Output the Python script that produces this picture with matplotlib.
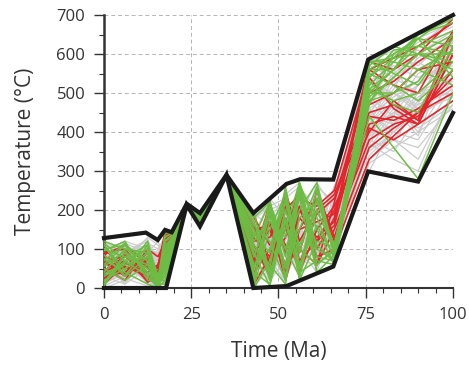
import matplotlib.pyplot as plt
from matplotlib.ticker import MultipleLocator

# node times shared by all the t-T paths (Ma)
times = [0, 6, 12.5, 15.5, 17.5, 20, 23.7, 27.5, 35, 43, 47.5, 52, 56, 61, 66, 76, 83, 90, 100]

# acceptable fits (gray)
gray_paths = [
    [20, 45, 30, 10, 60, 120, 214, 175, 288, 40, 120, 80, 200, 150, 90, 420, 480, 520, 600],
    [80, 60, 90, 40, 100, 130, 213, 180, 289, 150, 60, 180, 120, 220, 180, 470, 550, 600, 650],
    [110, 90, 50, 20, 20, 110, 215, 165, 287, 100, 180, 40, 90, 160, 240, 350, 400, 380, 520],
    [5, 30, 70, 60, 120, 140, 214, 185, 289, 10, 90, 150, 250, 100, 70, 520, 500, 460, 560],
    [60, 100, 20, 5, 40, 100, 212, 170, 288, 170, 30, 100, 60, 200, 140, 400, 450, 420, 480],
    [40, 20, 110, 80, 90, 125, 215, 178, 290, 60, 200, 220, 150, 80, 200, 560, 590, 640, 680],
    [100, 80, 40, 30, 10, 95, 213, 168, 288, 120, 70, 20, 180, 240, 110, 330, 380, 330, 500],
    [15, 70, 95, 15, 70, 135, 214, 182, 289, 30, 150, 190, 40, 120, 260, 480, 530, 580, 620],
    [90, 40, 60, 100, 130, 142, 215, 188, 290, 180, 100, 60, 220, 60, 160, 440, 420, 500, 550],
    [50, 110, 80, 50, 30, 105, 213, 172, 287, 80, 10, 130, 100, 180, 80, 380, 460, 550, 590],
    [120, 60, 15, 5, 50, 115, 214, 176, 288, 20, 60, 240, 270, 140, 120, 500, 560, 480, 500],
    [30, 90, 120, 70, 110, 138, 215, 184, 289, 140, 220, 110, 30, 260, 220, 540, 480, 440, 640],
    [70, 10, 50, 25, 80, 128, 213, 169, 288, 50, 130, 30, 140, 90, 180, 360, 440, 600, 660],
    [10, 50, 25, 40, 15, 90, 214, 181, 290, 190, 160, 80, 60, 230, 100, 460, 380, 360, 470],
    [95, 120, 100, 90, 140, 145, 215, 177, 289, 90, 40, 200, 230, 50, 240, 580, 610, 560, 600],
    [45, 25, 5, 10, 35, 100, 212, 171, 288, 130, 190, 160, 110, 170, 60, 320, 360, 400, 540],
    [85, 70, 130, 110, 60, 118, 214, 186, 290, 0, 80, 10, 190, 270, 200, 430, 510, 620, 690],
    [25, 100, 65, 20, 95, 132, 215, 174, 287, 160, 110, 250, 80, 110, 130, 410, 470, 500, 580],
    [115, 35, 85, 60, 25, 108, 213, 179, 289, 70, 170, 50, 260, 200, 90, 490, 440, 420, 610],
    [5, 80, 40, 15, 100, 136, 214, 166, 288, 110, 20, 170, 40, 70, 250, 530, 570, 540, 570],
    [65, 15, 100, 45, 75, 122, 215, 183, 290, 40, 140, 90, 160, 250, 170, 390, 420, 470, 520],
    [100, 55, 20, 30, 5, 92, 213, 173, 288, 185, 210, 140, 50, 130, 70, 450, 520, 590, 640],
    [35, 95, 75, 85, 125, 144, 214, 187, 289, 5, 50, 190, 210, 90, 210, 570, 540, 500, 530],
    [75, 40, 55, 35, 45, 112, 215, 175, 290, 150, 100, 20, 120, 190, 150, 340, 400, 450, 490],
    [55, 75, 10, 5, 65, 125, 213, 180, 288, 60, 180, 230, 260, 160, 110, 470, 580, 630, 670],
    [105, 115, 90, 70, 115, 140, 214, 170, 289, 100, 30, 60, 100, 40, 190, 510, 470, 400, 460],
    [15, 35, 115, 100, 85, 130, 215, 185, 287, 170, 120, 210, 20, 210, 230, 420, 500, 560, 610],
    [90, 100, 35, 10, 20, 98, 213, 167, 288, 25, 70, 120, 240, 100, 80, 370, 330, 300, 510],
    [40, 65, 105, 55, 135, 146, 214, 182, 290, 80, 200, 100, 170, 240, 140, 550, 520, 460, 580],
    [120, 85, 45, 20, 40, 106, 215, 176, 289, 130, 40, 250, 70, 60, 170, 440, 490, 530, 630],
    [0, 20, 60, 75, 55, 120, 213, 178, 288, 45, 160, 40, 200, 150, 260, 500, 590, 610, 560],
    [60, 105, 80, 45, 105, 134, 214, 171, 290, 175, 90, 150, 30, 220, 120, 380, 350, 440, 500],
    [80, 50, 20, 10, 10, 95, 215, 184, 288, 15, 230, 180, 150, 120, 60, 300, 420, 490, 540],
    [30, 10, 90, 120, 70, 127, 213, 173, 289, 120, 60, 70, 250, 180, 230, 560, 460, 390, 620],
    [110, 90, 125, 60, 30, 110, 214, 180, 290, 70, 110, 200, 90, 270, 100, 410, 450, 520, 600],
    [20, 60, 30, 25, 90, 130, 215, 168, 288, 140, 150, 30, 130, 80, 190, 460, 500, 470, 660],
    [50, 30, 45, 65, 85, 125, 214, 177, 289, 95, 70, 110, 180, 200, 150, 390, 470, 440, 560],
    [75, 95, 110, 50, 35, 102, 213, 183, 288, 35, 130, 170, 220, 130, 200, 480, 420, 520, 580],
    [10, 40, 85, 90, 115, 137, 215, 170, 290, 160, 90, 60, 110, 230, 90, 420, 540, 580, 520],
    [105, 65, 35, 15, 55, 118, 214, 186, 288, 85, 180, 200, 70, 160, 250, 530, 500, 450, 600],
    [35, 115, 60, 30, 75, 128, 213, 174, 289, 125, 40, 90, 150, 90, 170, 370, 450, 410, 470],
    [90, 20, 75, 55, 100, 133, 215, 181, 290, 55, 100, 140, 240, 180, 130, 450, 400, 480, 630],
    [65, 50, 95, 40, 10, 96, 214, 179, 288, 175, 210, 230, 190, 110, 210, 500, 600, 570, 650],
    [20, 105, 20, 5, 45, 110, 213, 172, 289, 65, 20, 70, 130, 250, 110, 360, 380, 460, 510],
]

# good fits (green)
green_paths = [
    [100, 80, 60, 10, 90, 135, 214, 180, 289, 20, 200, 30, 260, 80, 70, 560, 600, 640, 620],
    [60, 110, 40, 5, 40, 110, 213, 175, 288, 150, 20, 180, 50, 230, 90, 520, 580, 650, 680],
    [20, 50, 90, 15, 120, 140, 215, 185, 290, 5, 150, 240, 100, 60, 95, 480, 540, 600, 560],
    [115, 70, 100, 20, 20, 100, 214, 170, 288, 100, 60, 10, 270, 150, 60, 580, 550, 520, 640],
    [40, 100, 70, 5, 60, 120, 213, 182, 289, 180, 220, 100, 30, 200, 100, 440, 360, 280, 500],
    [85, 30, 110, 30, 100, 138, 215, 176, 290, 40, 10, 200, 230, 40, 85, 540, 610, 620, 600],
    [5, 90, 50, 10, 10, 95, 214, 188, 288, 120, 180, 60, 150, 260, 80, 500, 560, 640, 700],
    [70, 115, 30, 0, 80, 128, 213, 172, 289, 60, 100, 250, 20, 120, 105, 480, 500, 560, 520],
    [110, 45, 120, 25, 130, 145, 215, 179, 290, 190, 40, 150, 270, 100, 70, 570, 620, 600, 650],
    [30, 60, 80, 5, 50, 115, 214, 186, 288, 10, 230, 20, 180, 220, 110, 510, 480, 500, 580],
    [95, 120, 20, 15, 110, 132, 213, 168, 289, 140, 90, 230, 40, 70, 60, 580, 590, 650, 690],
    [50, 20, 60, 10, 30, 105, 215, 183, 290, 80, 210, 50, 260, 180, 75, 530, 470, 450, 620],
    [120, 100, 90, 5, 70, 125, 214, 174, 288, 170, 30, 200, 90, 250, 90, 490, 540, 600, 600],
    [15, 80, 110, 20, 140, 146, 213, 181, 289, 30, 170, 130, 250, 60, 100, 560, 560, 620, 660],
    [75, 40, 10, 0, 20, 100, 215, 178, 290, 110, 50, 260, 60, 160, 80, 470, 600, 640, 540],
    [100, 110, 70, 10, 90, 130, 214, 187, 288, 50, 190, 100, 200, 270, 90, 550, 520, 480, 560],
    [35, 65, 100, 30, 50, 118, 213, 169, 289, 160, 120, 20, 240, 110, 70, 580, 580, 560, 610],
    [55, 95, 40, 5, 120, 140, 215, 184, 290, 0, 70, 220, 110, 200, 100, 500, 500, 530, 650],
    [110, 30, 80, 15, 100, 135, 214, 177, 288, 130, 220, 80, 270, 40, 60, 510, 560, 650, 700],
    [10, 70, 30, 5, 60, 120, 213, 180, 289, 90, 5, 170, 30, 230, 110, 540, 590, 600, 580],
]

# best fits (red)
red_paths = [
    [40, 70, 20, 60, 130, 140, 214, 178, 289, 90, 150, 40, 200, 120, 200, 420, 440, 420, 600],
    [70, 30, 80, 10, 110, 130, 213, 182, 288, 160, 50, 230, 100, 60, 150, 380, 420, 440, 560],
    [20, 90, 50, 40, 140, 145, 215, 172, 290, 30, 190, 110, 60, 190, 230, 450, 470, 430, 650],
    [100, 50, 60, 5, 100, 125, 214, 185, 288, 130, 80, 200, 240, 100, 180, 580, 560, 600, 690],
    [50, 20, 100, 80, 120, 138, 213, 176, 289, 60, 170, 20, 150, 230, 120, 360, 410, 450, 500],
    [90, 100, 30, 20, 80, 128, 215, 170, 290, 180, 110, 160, 40, 150, 210, 400, 480, 430, 620],
    [10, 60, 70, 50, 145, 146, 214, 184, 288, 20, 200, 90, 210, 80, 100, 330, 390, 450, 540],
    [60, 85, 15, 30, 90, 132, 213, 180, 289, 110, 30, 250, 120, 200, 240, 470, 500, 560, 580],
    [30, 40, 90, 15, 125, 140, 215, 174, 290, 150, 160, 60, 180, 130, 170, 560, 520, 500, 660],
    [80, 65, 40, 60, 135, 143, 214, 186, 288, 40, 100, 180, 90, 250, 130, 410, 380, 420, 480],
    [45, 80, 55, 25, 105, 135, 213, 178, 289, 190, 60, 130, 260, 60, 220, 540, 460, 420, 600],
    [65, 35, 75, 40, 115, 130, 215, 182, 290, 70, 220, 30, 150, 170, 190, 440, 430, 460, 520],
    [25, 55, 30, 10, 95, 125, 214, 171, 288, 120, 130, 210, 70, 120, 160, 500, 530, 580, 640],
    [85, 110, 60, 35, 130, 142, 213, 180, 289, 10, 80, 150, 230, 210, 250, 560, 590, 620, 680],
]

# envelope of all paths
upper_t = [0, 12, 15.4, 17.5, 19.4, 23.7, 27.5, 35.1, 42.8, 52.3, 56.2, 65.7, 75.7, 100]
upper_T = [128, 142, 123, 149, 143, 216, 192, 290, 192, 267, 279, 278, 586, 700]
lower_t = [0, 17.8, 23.7, 27.5, 35.1, 42.8, 52.3, 65.7, 75.7, 90, 100]
lower_T = [0, 0, 213, 158, 290, 0, 5, 55, 299, 273, 449]

plt.rcParams['font.family'] = ['Open Sans', 'DejaVu Sans']
txt = '#333333'

fig = plt.figure(figsize=(4.69, 3.69), dpi=100)
ax = fig.add_axes([0.2217, 0.2195, 0.7442, 0.7398])

for p in gray_paths:
    ax.plot(times, p, color='#cbcbcb', lw=0.9, zorder=2)
for p in red_paths:
    ax.plot(times, p, color='#e5232a', lw=1.2, zorder=3)
for p in green_paths:
    ax.plot(times, p, color='#6dbd45', lw=1.1, zorder=4)

ax.plot(upper_t, upper_T, color='#1a1a1a', lw=3, zorder=5, clip_on=False,
        solid_joinstyle='miter')
ax.plot(lower_t, lower_T, color='#1a1a1a', lw=3, zorder=5, clip_on=False,
        solid_joinstyle='miter')

ax.set_xlim(0, 100)
ax.set_ylim(0, 700)
ax.xaxis.set_major_locator(MultipleLocator(25))
ax.xaxis.set_minor_locator(MultipleLocator(5))
ax.yaxis.set_major_locator(MultipleLocator(100))
ax.yaxis.set_minor_locator(MultipleLocator(50))
ax.grid(True, which='major', color='#b5b5b5', ls=(0, (4, 3)), lw=0.7, zorder=0)

for s in ['top', 'right']:
    ax.spines[s].set_visible(False)
ax.spines['left'].set_linewidth(1.8)
ax.spines['bottom'].set_linewidth(1.5)
ax.spines['left'].set_color('#333333')
ax.spines['bottom'].set_color('#333333')

ax.tick_params(which='major', direction='out', length=7, width=1, colors=txt,
               labelsize=12, pad=6.5)
ax.tick_params(which='minor', direction='out', length=3.6, width=0.8, colors=txt)

ax.set_xlabel('Time (Ma)', fontsize=15, color=txt, labelpad=13)
ax.set_ylabel('Temperature (\u00b0C)', fontsize=15, color=txt, labelpad=15)

fig.savefig('out.png', dpi=100)
